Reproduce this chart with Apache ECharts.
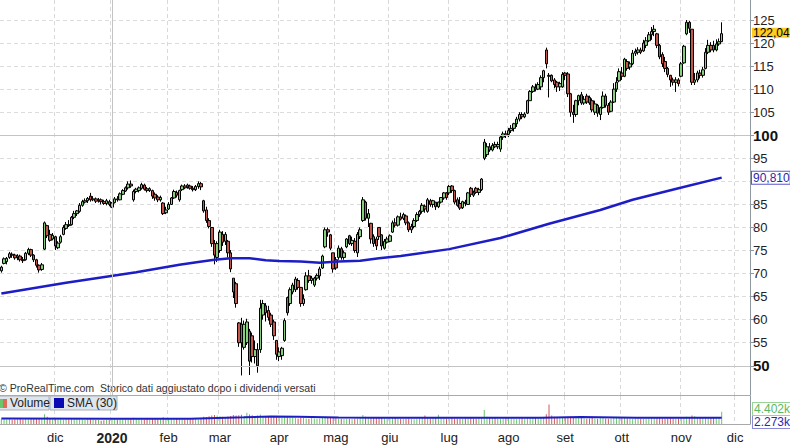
<!DOCTYPE html>
<html><head><meta charset="utf-8">
<script src="https://cdn.jsdelivr.net/npm/echarts@6/dist/echarts.min.js"></script>
<style>html,body{margin:0;padding:0;background:#fff}#c{width:790px;height:445px}</style>
</head><body><div id="c"></div>
<script>
// ---- categories (US trading days) ----
const startDate = '2019-11-01';
const endDate = '2020-12-08';
const holidays = ['2019-11-28','2019-12-25','2020-01-01','2020-01-20','2020-02-17','2020-04-10','2020-05-25','2020-07-03','2020-09-07','2020-11-26'];
const monthNames = ['gen','feb','mar','apr','mag','giu','lug','ago','set','ott','nov','dic'];

// ---- price data ----
const open = [
70.6,72.2,72.6,73.5,74.2,74.0,73.5,73.8,73.0,73.0,
74.4,75.2,74.0,73.0,71.8,70.9,75.3,80.4,78.5,77.5,
78.0,75.6,76.8,78.5,79.8,80.6,80.6,82.2,83.0,83.5,
84.8,85.5,85.8,86.8,86.0,86.2,85.8,86.0,85.6,85.2,
85.6,84.4,85.4,86.2,86.0,87.2,87.9,88.6,89.4,86.0,
87.8,88.0,88.5,89.2,88.4,88.0,88.0,87.2,86.6,86.0,
85.3,83.2,84.0,85.0,86.4,87.6,86.0,88.2,89.0,88.8,
89.0,88.5,88.2,88.9,89.5,85.8,83.8,81.5,80.0,76.5,
73.5,75.0,78.5,77.0,77.0,74.5,69.0,67.8,59.3,59.0,
54.0,55.0,57.5,56.5,52.0,53.5,53.5,61.0,63.0,62.0,
61.0,59.5,55.5,52.0,52.2,55.5,64.8,63.5,66.0,66.5,
68.5,67.0,63.5,66.5,69.5,68.5,67.5,69.0,69.5,71.2,
75.8,79.5,78.4,74.5,73.0,73.5,75.4,73.5,75.8,78.2,
76.5,77.0,74.5,78.0,81.5,85.5,82.0,80.9,78.0,77.5,
80.0,78.4,75.5,76.8,77.0,79.0,81.0,80.5,82.3,82.0,
82.5,81.0,79.5,80.2,81.5,82.8,83.5,84.6,83.5,85.8,
85.0,85.5,84.5,85.5,86.4,87.5,87.5,89.0,88.0,86.0,
85.2,84.3,85.5,85.0,88.5,87.5,88.5,87.6,88.2,95.0,
95.8,97.5,96.8,98.0,97.5,97.0,99.6,100.3,100.2,101.0,
101.5,102.5,103.5,104.5,104.0,104.8,107.5,109.5,110.3,110.0,
110.5,112.5,118.5,113.0,113.0,112.0,111.5,110.5,110.5,113.5,
113.3,109.0,105.0,104.5,107.5,108.8,107.0,108.5,108.2,107.5,
105.0,106.5,104.5,106.0,108.5,106.5,105.2,107.2,110.0,111.8,
113.5,112.8,116.0,114.8,115.5,117.8,118.0,118.5,118.3,119.5,
120.5,121.8,122.5,122.0,119.5,117.5,116.0,114.5,113.0,112.0,
111.5,112.0,112.8,115.7,122.0,124.5,123.0,111.5,112.0,113.5,
113.0,114.5,118.0,119.5,119.5,118.5,119.8,120.3];
const close = [
71.4,73.2,73.3,74.3,74.0,73.4,73.8,73.0,72.8,74.4,
75.2,74.0,73.0,71.8,70.8,71.9,81.0,78.2,77.2,78.3,
76.0,76.6,78.0,80.0,80.6,80.4,82.2,83.0,83.6,84.8,
85.6,85.8,86.3,86.0,86.2,85.7,86.0,85.6,85.2,85.8,
85.0,85.3,86.2,86.0,87.3,88.0,88.6,89.4,89.0,87.8,
88.3,88.6,89.3,88.3,88.0,88.4,86.8,86.4,86.0,86.5,
83.0,83.8,85.0,86.4,87.8,87.0,88.0,89.0,88.6,89.2,
88.5,88.2,88.9,89.5,88.8,83.6,81.5,80.2,76.5,74.0,
76.5,79.0,76.8,78.5,74.5,71.0,66.0,63.5,55.0,55.0,
59.0,59.5,51.0,52.0,53.5,50.0,62.5,63.5,61.5,60.5,
59.0,56.5,52.5,53.0,53.8,59.8,61.5,66.5,67.5,68.8,
67.0,63.5,64.5,69.5,68.5,69.0,69.0,69.6,71.0,73.8,
79.5,79.0,75.5,71.0,71.2,75.5,73.5,74.5,77.5,76.5,
77.2,75.0,78.5,79.5,86.0,82.0,83.0,77.5,76.5,76.0,
78.0,76.0,77.0,77.5,78.2,81.0,80.5,82.3,81.8,82.8,
81.0,79.5,80.2,81.5,82.8,83.5,84.8,84.0,86.0,85.0,
85.8,84.5,85.5,86.5,87.5,86.5,88.9,88.0,85.5,84.8,
84.2,85.6,85.2,87.5,87.2,87.0,87.6,88.2,90.5,98.5,
97.5,96.8,97.8,97.5,98.0,99.6,100.3,100.0,101.0,101.5,
102.5,103.5,104.5,104.0,104.6,107.5,109.5,110.5,110.0,111.0,
112.5,114.0,115.5,112.8,111.8,111.0,110.5,111.2,113.2,113.0,
109.0,105.0,104.5,107.5,108.6,107.0,107.8,107.2,107.0,105.5,
106.8,104.8,106.0,108.5,106.5,105.0,107.2,110.0,111.5,113.8,
112.8,116.5,114.5,115.5,117.8,118.2,118.5,118.0,120.0,120.5,
121.8,122.5,123.0,119.5,117.0,115.5,114.5,113.2,112.0,111.5,
112.0,111.2,115.5,119.3,124.5,123.2,111.5,112.0,113.5,113.0,
114.2,118.0,119.5,118.5,118.5,119.8,120.3,122.04];
const high = [
71.7,73.5,73.6,74.7,74.6,74.3,74.2,74.1,73.6,74.7,
75.6,75.4,74.2,73.2,72.0,72.3,81.3,80.6,79.5,78.8,
78.2,77.0,78.4,80.5,81.2,81.6,82.5,83.6,83.8,85.3,
86.0,86.3,86.6,87.5,86.8,86.5,86.4,86.3,86.0,86.2,
86.0,85.5,86.6,86.8,87.6,88.3,88.9,90.0,90.2,88.2,
88.6,88.9,89.7,89.5,88.8,88.7,88.2,87.6,87.0,86.9,
85.5,84.5,85.5,86.6,88.2,88.0,88.2,89.3,89.4,89.5,
89.3,89.0,89.2,90.0,89.9,86.0,84.5,82.0,80.1,77.3,
77.0,79.5,79.2,79.0,77.3,75.1,69.0,68.2,59.5,60.4,
59.8,60.2,58.0,57.2,55.5,54.9,64.3,64.3,63.6,63.0,
61.5,60.0,55.6,54.0,54.1,60.3,65.0,67.0,68.0,69.3,
69.0,67.1,65.5,70.3,70.8,69.5,69.3,70.0,71.5,74.1,
80.0,80.0,78.6,74.5,73.6,76.1,75.8,75.0,77.7,78.4,
78.0,77.7,79.0,80.0,86.6,85.8,84.0,81.0,78.5,78.0,
80.1,78.5,77.5,78.0,78.5,81.5,82.0,82.6,83.2,83.2,
82.8,81.3,80.8,82.0,83.3,83.8,85.3,85.0,86.4,86.2,
86.0,85.5,85.6,86.6,87.7,87.7,89.2,89.2,88.2,86.5,
86.6,85.8,86.0,87.7,88.8,88.0,88.8,88.6,90.7,99.2,
98.3,98.3,98.3,98.6,98.6,100.0,100.8,101.0,101.6,102.2,
102.7,104.0,105.0,105.0,105.0,107.7,109.8,110.9,111.2,111.5,
113.0,114.2,119.0,113.5,113.2,112.4,111.8,111.6,113.7,113.7,
113.7,109.2,106.6,107.7,108.8,109.4,108.5,109.0,108.6,108.0,
107.5,106.8,106.2,109.5,109.0,107.0,107.6,111.3,112.6,114.5,
114.8,116.8,116.5,116.0,118.5,118.8,119.1,119.0,120.7,121.3,
122.4,123.5,123.9,122.2,119.8,118.0,117.0,114.8,113.1,112.5,
112.6,112.4,115.9,119.6,125.0,124.8,123.0,113.5,114.0,114.2,
114.8,118.9,120.7,120.2,120.5,120.8,121.0,124.5];
const low = [
70.2,72.0,72.0,73.2,73.4,73.0,72.9,72.6,72.3,72.8,
74.0,73.6,72.5,71.3,70.2,70.6,75.1,77.7,76.9,77.2,
75.1,75.3,76.5,78.3,79.5,80.1,80.4,81.8,82.5,83.2,
84.5,85.2,85.3,85.6,85.7,85.3,85.4,85.0,84.9,84.8,
84.6,84.2,85.2,85.6,85.9,87.0,87.7,88.2,88.6,85.6,
87.4,87.6,88.2,88.0,87.6,87.7,86.2,85.8,85.5,85.6,
82.7,82.9,83.8,84.9,86.2,86.5,85.6,87.9,88.3,88.4,
88.2,87.8,87.9,88.4,88.1,83.2,81.0,79.8,75.8,72.0,
72.5,74.5,76.0,76.2,73.5,70.3,64.7,62.6,54.1,47.9,
53.5,54.5,48.0,50.7,50.5,48.5,52.8,60.0,59.6,59.8,
58.4,55.6,51.3,51.0,51.3,55.2,60.9,63.0,65.5,66.0,
66.5,62.8,63.0,66.3,68.0,67.8,67.1,68.5,68.6,71.0,
75.5,78.0,75.1,70.2,70.8,73.0,73.0,73.0,75.5,76.2,
76.0,74.5,73.6,77.5,81.2,81.5,80.1,76.5,75.8,75.1,
77.3,75.1,75.2,76.5,76.8,78.8,80.0,80.2,81.5,81.6,
80.5,79.0,78.8,79.8,81.2,82.3,83.0,83.2,83.2,84.5,
84.3,83.8,84.2,85.2,86.0,86.0,87.0,87.5,85.0,84.5,
83.8,84.0,84.6,84.9,86.6,86.6,87.3,87.0,87.9,94.6,
95.3,96.4,96.5,97.2,97.0,96.4,99.0,99.4,99.6,100.5,
100.8,101.8,103.0,103.5,103.7,104.6,107.5,109.2,109.5,109.8,
109.8,111.5,114.5,108.2,111.5,110.2,109.4,109.6,110.3,112.0,
108.3,104.0,102.7,104.0,106.5,106.6,106.6,106.8,106.6,105.0,
104.4,104.0,103.3,105.8,106.0,104.4,105.0,107.0,109.4,111.5,
112.0,112.6,114.0,114.2,115.2,117.2,117.5,117.6,118.1,118.9,
120.2,120.7,121.5,118.9,116.5,114.8,113.7,112.6,110.5,110.8,
109.4,110.6,112.6,115.5,121.7,122.2,110.9,110.9,111.5,112.3,
112.5,114.3,117.6,118.0,118.0,118.2,119.4,120.2];

// moving average of price, read at points [dayIndex, value]
const smaPoints = [[0,65.7],[24,68.0],[50,70.3],[66,71.9],[73,72.5],[79,73.0],[85,73.3],[92,73.3],[98,72.9],[103,72.7],[111,72.6],[118,72.35],[125,72.6],[133,72.8],[140,73.3],[148,73.8],[166,75.3],[185,77.7],[203,80.8],[222,83.8],[234,86.0],[251,88.5],[267,90.81]];

// volume
const volume = [
1800,1700,1600,1900,1500,1600,1700,1800,1600,1900,1700,1800,1900,2000,2100,1800,3500,2600,2000,1800,
1900,1800,1700,1600,1800,1700,1900,2000,1800,1700,1600,1500,1800,1700,1600,1400,1500,1200,1300,1500,
1400,1700,1800,1600,1700,1800,1900,2000,1800,2200,1900,1800,1700,1600,1800,1700,1900,2000,1800,2100,
2400,2000,1900,1800,1700,1900,1800,1700,1600,1700,1800,1900,1800,1700,1900,2600,2500,2800,3000,3200,
3000,2800,2600,2500,2700,2900,3200,3000,3100,3300,2900,4000,3400,3100,2900,3000,3400,2800,2600,2500,
2400,2600,2500,2300,2200,2500,2400,2300,2200,2100,2000,2200,2100,2000,1900,2100,2000,1900,2000,2200,
2600,2300,2200,2400,2100,2000,1900,1800,1900,1800,1700,1900,2000,2200,3200,2600,2500,2400,2200,2100,
2300,2100,2000,1900,2000,2200,2100,2000,1900,1800,1900,2000,1800,1700,1900,2000,2100,3000,2200,2000,
2100,2300,3300,2200,2100,2000,1900,2100,2000,1900,1800,1900,2000,2100,2200,2000,1900,2100,2400,5000,
2600,2300,2200,2100,2000,1900,2000,2100,2200,2000,1900,1800,2000,2100,1900,2200,2400,2300,2100,2000,
2200,2400,3500,7000,3000,2600,2400,2300,2200,2400,2600,2700,2500,2300,2200,2100,2000,1900,2000,2100,
2000,1900,2100,2200,2000,1900,2000,2100,2200,2300,2200,2100,2000,1900,1800,1900,2000,1900,1800,1900,
2000,2100,2200,2300,2100,2000,1900,2000,2100,2000,1900,2000,2200,2400,2600,2300,3000,2800,2500,2300,
2200,2400,2300,2200,2100,2300,2500,4402];
const volSmaPoints = [[0,2000],[40,1900],[70,1900],[90,2400],[100,2700],[110,2600],[125,2300],[140,2200],[160,2200],[175,2200],[200,2200],[215,2500],[235,2200],[267,2273]];

const yTicks = [50,55,60,65,70,75,80,85,90,95,100,105,110,115,120,125];
const yLabels = [50,55,60,65,70,75,80,85,95,100,105,110,115,120,125];
const lastPrice = 122.04, lastSma = 90.81, lastVol = 4402, lastVolSma = 2273;

// ---- build ----
const dates = [];
(function(){
  const d = new Date(startDate + 'T00:00:00Z'), end = new Date(endDate + 'T00:00:00Z');
  while (d <= end) {
    const s = d.toISOString().slice(0,10), w = d.getUTCDay();
    if (w !== 0 && w !== 6 && holidays.indexOf(s) < 0) dates.push(s);
    d.setUTCDate(d.getUTCDate() + 1);
  }
})();
const monthStart = new Set();
for (let i = 1; i < dates.length; i++) if (dates[i].slice(5,7) !== dates[i-1].slice(5,7)) monthStart.add(i);
const janIdx = [...monthStart].find(i => dates[i].slice(5,7) === '01');

const ohlc = open.map((o,i) => [o, close[i], low[i], high[i]]);
const UP = '#86cf7c', DOWN = '#c2564a';
const volData = volume.map((v,i) => ({value: v, itemStyle: {color: close[i] >= open[i] ? '#6cc46c' : '#d05a5a'}}));
const fmt = (v, d) => v.toFixed(d).replace('.', ',');
const FONT = 'Liberation Sans, Arial, sans-serif';

const chart = echarts.init(document.getElementById('c'), null, {renderer: 'svg', width: 790, height: 445});
chart.setOption({
  animation: false,
  backgroundColor: '#fff',
  textStyle: {fontFamily: FONT},
  grid: [
    {left: 0, right: 40, top: 0, height: 395},
    {left: 0, right: 40, top: 396, height: 30}
  ],
  xAxis: [
    {type: 'category', gridIndex: 0, data: dates, boundaryGap: true,
     axisLine: {show: true, lineStyle: {color: '#a9a9a9'}}, axisTick: {show: false}, axisLabel: {show: false},
     splitLine: {show: true, interval: (i) => monthStart.has(i), lineStyle: {color: '#d9d9d9', type: [4,3]}}},
    {type: 'category', gridIndex: 1, data: dates, boundaryGap: true,
     axisLine: {show: true, lineStyle: {color: '#a9a9a9'}}, axisTick: {show: false},
     axisLabel: {interval: (i) => monthStart.has(i), color: '#222', fontSize: 13, margin: 7, fontFamily: FONT,
       formatter: (v) => { const m = +v.slice(5,7); return m === 1 ? '{b|' + v.slice(0,4) + '}' : monthNames[m-1]; },
       rich: {b: {fontWeight: 'bold', fontSize: 14, color: '#222', fontFamily: FONT}}},
     splitLine: {show: true, interval: (i) => monthStart.has(i), lineStyle: {color: '#d9d9d9', type: [4,3]}}}
  ],
  yAxis: [
    {type: 'value', gridIndex: 0, position: 'right', min: 43.66, max: 129.34,
     axisLine: {show: true, lineStyle: {color: '#8d9aa3'}},
     axisTick: {show: true, length: 4, customValues: yTicks, lineStyle: {color: '#8d9aa3'}},
     axisLabel: {customValues: yLabels, color: '#222', fontSize: 13, lineHeight: 11, margin: 3, fontFamily: FONT,
       formatter: (v) => (v === 50 || v === 100) ? '{b|' + v + '}' : String(v),
       rich: {b: {fontWeight: 'bold', fontSize: 15, lineHeight: 13, color: '#111', fontFamily: FONT}}},
     splitLine: {show: true, lineStyle: {color: '#dcdcdc', type: [4,3]}}},
    {type: 'value', gridIndex: 1, position: 'right', min: 0, max: 10000,
     axisLine: {show: true, lineStyle: {color: '#8d9aa3'}}, axisTick: {show: false}, axisLabel: {show: false},
     splitLine: {show: false}}
  ],
  series: [
    {type: 'candlestick', xAxisIndex: 0, yAxisIndex: 0, data: ohlc, barWidth: 3,
     itemStyle: {color: UP, color0: DOWN, borderColor: '#000', borderColor0: '#000', borderWidth: 1},
     markLine: {silent: true, symbol: 'none', animation: false,
       data: [
         {yAxis: 100, lineStyle: {color: '#c4c4c4', type: 'solid', width: 1}, label: {show: false}},
         {yAxis: 50, lineStyle: {color: '#c4c4c4', type: 'solid', width: 1}, label: {show: false}},
         {xAxis: dates[janIdx], lineStyle: {color: '#c4c4c4', type: 'solid', width: 1}, label: {show: false}},
         {yAxis: lastPrice, lineStyle: {color: 'rgba(0,0,0,0)', width: 0},
          label: {show: true, position: 'end', distance: 2, offset: [0, -1], formatter: fmt(lastPrice, 2), color: '#000', fontSize: 12,
                  lineHeight: 9, fontFamily: FONT, backgroundColor: '#ffcc22', padding: [1,0,0,1]}}
       ]}},
    {type: 'line', xAxisIndex: 0, yAxisIndex: 0, data: smaPoints, symbol: 'none',
     lineStyle: {color: '#1d1dc6', width: 2.5}, z: 3,
     markLine: {silent: true, symbol: 'none', animation: false,
       data: [{yAxis: lastSma, lineStyle: {color: 'rgba(0,0,0,0)', width: 0},
         label: {show: true, position: 'end', distance: 2, formatter: fmt(lastSma, 3), color: '#2a2aa8', fontSize: 12,
                 lineHeight: 11, fontFamily: FONT, backgroundColor: '#fff', borderColor: '#5a5ad0', borderWidth: 1, padding: [1,0,0,1]}}]}},
    {type: 'bar', xAxisIndex: 1, yAxisIndex: 1, data: volData, barWidth: 1},
    {type: 'line', xAxisIndex: 1, yAxisIndex: 1, data: volSmaPoints, symbol: 'none',
     lineStyle: {color: '#1d1dc6', width: 2}, z: 3}
  ],
  graphic: [
    {type: 'text', x: -1, y: 382, style: {text: '© ProRealTime.com  Storico dati aggiustato dopo i dividendi versati',
      fill: '#333', fontSize: 10.6, fontFamily: FONT}},
    {type: 'rect', shape: {x: -3, y: 396, width: 52, height: 14}, style: {fill: '#dfe5ec', stroke: '#a8b0b8', lineWidth: 1}, z: 10},
    {type: 'rect', shape: {x: 0, y: 399, width: 3, height: 9}, style: {fill: '#6cc46c'}, z: 11},
    {type: 'rect', shape: {x: 3, y: 399, width: 4, height: 9}, style: {fill: '#e06a5a'}, z: 11},
    {type: 'text', x: 10, y: 397, style: {text: 'Volume', fill: '#222', fontSize: 12, fontFamily: FONT}, z: 11},
    {type: 'rect', shape: {x: 50, y: 396, width: 67, height: 14}, style: {fill: '#dfe5ec', stroke: '#a8b0b8', lineWidth: 1}, z: 10},
    {type: 'rect', shape: {x: 54, y: 398, width: 10, height: 10}, style: {fill: '#0a0ab4'}, z: 11},
    {type: 'text', x: 67, y: 397, style: {text: 'SMA (30)', fill: '#222', fontSize: 12, fontFamily: FONT}, z: 11},
    {type: 'text', x: 753, y: 403, style: {text: (lastVol/1000).toFixed(3) + 'k', fill: '#5cb85c', fontSize: 12, fontFamily: FONT,
      backgroundColor: '#fff', borderColor: '#9ad39a', borderWidth: 1, padding: [0,0,0,1]}, z: 11},
    {type: 'text', x: 753, y: 416, style: {text: (lastVolSma/1000).toFixed(3) + 'k', fill: '#2a2aa8', fontSize: 12, fontFamily: FONT,
      backgroundColor: '#fff', borderColor: '#8a8ad8', borderWidth: 1, padding: [0,0,0,1]}, z: 10}
  ]
});
</script>
</body></html>
